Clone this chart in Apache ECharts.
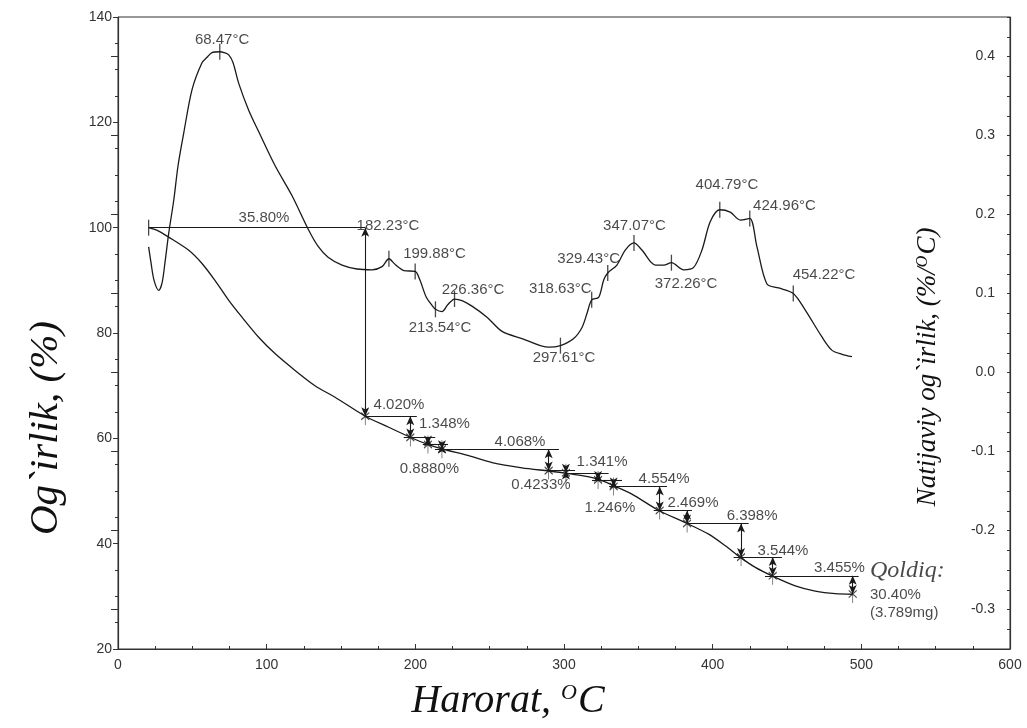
<!DOCTYPE html>
<html>
<head>
<meta charset="utf-8">
<script src="https://cdn.jsdelivr.net/npm/echarts@6/dist/echarts.min.js"></script>
<style>
html, body { margin: 0; padding: 0; background: #fff; }
#chart { width: 1027px; height: 728px; }
</style>
</head>
<body>
<div id="chart"></div>
<script>
// ---- TG curve: residual mass (%) against temperature (°C)
const tgTemp = [20.6, 27.0, 34.1, 47.6, 56.5, 65.2, 74.5, 83.4, 94.6, 105.6, 119.1, 132.5, 146.0, 166.3,
  182.1, 196.6, 207.8, 217.9, 235.9, 251.6, 271.7, 289.7, 300.9, 312.1, 323.3, 333.4, 345.7, 363.7,
  381.6, 397.3, 408.5, 418.6, 428.7, 439.9, 455.6, 469.0, 482.5, 494.2];
const tgMass = [100.0, 99.4, 98.2, 95.7, 93.2, 90.0, 86.2, 83.0, 79.2, 76.1, 72.9, 70.0, 67.8, 64.2,
  62.1, 60.2, 58.9, 58.0, 56.7, 55.4, 54.4, 53.8, 53.4, 52.9, 52.2, 51.0, 49.4, 46.3,
  44.0, 41.8, 39.6, 37.4, 35.5, 33.9, 32.0, 31.0, 30.5, 30.4];

// ---- DTG curve: rate of mass loss (%/°C)
const dtgTemp = [20.6, 22.2, 24.2, 27.4, 29.6, 31.6, 34.1, 37.5, 40.4, 44.2, 49.8, 56.5, 59.9, 63.2, 68.47,
  71.3, 74.5, 77.4, 81.2, 87.9, 94.6, 105.6, 117.0, 128.3, 134.5, 141.3, 150.7, 160.8, 170.8, 177.6,
  182.23, 186.3, 192.4, 199.88, 203.1, 207.2, 211.2, 213.54, 217.9, 221.9, 226.36, 231.4, 238.1, 248.2,
  258.3, 271.7, 289.7, 297.61, 306.5, 312.1, 315.5, 318.63, 323.3, 326.7, 329.43, 335.6, 341.2, 347.07,
  352.4, 361.4, 367.1, 372.26, 380.5, 387.2, 392.8, 398.4, 404.79, 411.8, 418.6, 424.96, 429.8,
  436.5, 444.4, 454.22, 462.3, 473.5, 480.3, 487.0, 493.7];
const dtgRate = [0.159, 0.139, 0.117, 0.104, 0.113, 0.139, 0.176, 0.218, 0.262, 0.303, 0.358, 0.392, 0.399, 0.405, 0.406,
  0.405, 0.402, 0.392, 0.366, 0.332, 0.305, 0.262, 0.224, 0.180, 0.160, 0.146, 0.136, 0.131, 0.130, 0.134,
  0.144, 0.137, 0.129, 0.128, 0.117, 0.096, 0.085, 0.080, 0.077, 0.086, 0.093, 0.091, 0.084, 0.070,
  0.052, 0.043, 0.032, 0.034, 0.043, 0.057, 0.075, 0.092, 0.095, 0.117, 0.126, 0.136, 0.155, 0.164,
  0.155, 0.136, 0.136, 0.139, 0.130, 0.133, 0.155, 0.191, 0.206, 0.203, 0.193, 0.195, 0.159,
  0.112, 0.107, 0.100, 0.079, 0.045, 0.028, 0.023, 0.020];

// ---- DTG peak temperatures marked on the curve (°C)
const dtgPeaks = [68.47, 182.23, 199.88, 213.54, 226.36, 297.61, 318.63, 329.43, 347.07, 372.26, 404.79, 424.96, 454.22];

// ---- mass-loss steps (% of initial mass) and the temperature that closes each step
const stepLoss = [35.80, 4.020, 1.348, 0.8880, 4.068, 0.4233, 1.341, 1.246, 4.554, 2.469, 6.398, 3.544, 3.455];
const stepTemp = [166.3, 196.6, 208.5, 217.9, 289.7, 301.3, 322.9, 333.4, 364.4, 382.8, 419.1, 440.4, 494.2];
// temperature span of the baseline drawn at the start level of each step
const stepSpanFrom = [20.6, 166.3, 192.2, 205.0, 213.2, 285.2, 303.1, 318.8, 330.3, 360.3, 382.7, 414.1, 435.2];
const stepSpanTo = [166.3, 201.0, 213.4, 222.0, 296.6, 307.4, 330.0, 339.0, 369.3, 386.1, 424.2, 446.6, 498.2];

// ---- residue
const residueText = ['Qoldiq:', '30.40%', '(3.789mg)'];

// ---- axis ticks
const tempTicks = [0, 100, 200, 300, 400, 500, 600];
const massTicks = [20, 40, 60, 80, 100, 120, 140];
const rateTicks = [-0.3, -0.2, -0.1, 0.0, 0.1, 0.2, 0.3, 0.4];

// ================= layout of annotation text (data coordinates: °C, %) =================
const peakLabelAt = [[70.0, 135.6], [181.6, 100.4], [212.9, 95.1], [216.6, 81.0], [238.8, 88.1],
  [300.0, 75.3], [297.5, 88.4], [316.6, 94.1], [347.4, 100.4], [382.1, 89.4], [409.6, 108.2],
  [448.3, 104.1], [474.9, 91.1]];
const stepLabelAt = [[98.2, 101.8], [189.0, 66.4], [219.6, 62.8], [209.5, 54.2], [270.4, 59.4],
  [284.5, 51.2], [325.6, 55.6], [330.9, 46.8], [367.3, 52.3], [386.8, 47.8], [426.5, 45.3],
  [447.3, 38.6], [485.3, 35.4]];
const residueAt = [[505.8, 34.8], [505.8, 30.3], [505.8, 26.8]];

const INK = '#1a1a1a';
const SANS = '"Liberation Sans", Arial, sans-serif';
const SERIF = '"Liberation Serif", "Times New Roman", serif';

// mass level before each step
const levels = [100];
stepLoss.forEach((d, i) => levels.push(levels[i] - d));

function interp(xs, ys, x) {
  for (let i = 1; i < xs.length; i++) {
    if (x <= xs[i]) {
      const t = (x - xs[i - 1]) / (xs[i] - xs[i - 1]);
      return ys[i - 1] + t * (ys[i] - ys[i - 1]);
    }
  }
  return ys[ys.length - 1];
}

const tgData = tgTemp.map((t, i) => [t, tgMass[i]]);
const dtgData = dtgTemp.map((t, i) => [t, dtgRate[i]]);
const peakMarks = dtgPeaks.map(t => [t, interp(dtgTemp, dtgRate, t)]);
const stepMarks = stepTemp.map((t, i) => [t, levels[i + 1]]);

const stepLines = [];
stepLoss.forEach((d, i) => {
  stepLines.push([
    { coord: [stepSpanFrom[i], levels[i]], symbol: 'none' },
    { coord: [stepSpanTo[i], levels[i]], symbol: 'none' }
  ]);
  stepLines.push([
    { coord: [stepTemp[i], levels[i]], symbol: 'arrow' },
    { coord: [stepTemp[i], levels[i + 1]], symbol: 'arrow' }
  ]);
});

const textItems = [];
dtgPeaks.forEach((t, i) => textItems.push({ value: peakLabelAt[i], name: t.toFixed(2) + '°C' }));
stepLoss.forEach((d, i) => textItems.push({ value: stepLabelAt[i], name: d.toPrecision(4) + '%' }));

const residueItems = residueText.map((s, i) => ({
  value: residueAt[i], name: s,
  label: i === 0 ? { fontFamily: SERIF, fontStyle: 'italic', fontSize: 24, color: INK } : {}
}));

const chart = echarts.init(document.getElementById('chart'), null, { renderer: 'canvas' });

chart.setOption({
  animation: false,
  backgroundColor: '#fff',
  grid: { left: 118, right: 17, top: 17, bottom: 79, show: true, borderColor: '#333', borderWidth: 1 },
  xAxis: {
    type: 'value', min: tempTicks[0], max: tempTicks[tempTicks.length - 1], interval: 100,
    axisLine: { onZero: false, lineStyle: { color: '#333', width: 1.2 } },
    axisTick: { inside: true, length: 5, lineStyle: { color: '#333' } },
    minorTick: { show: true, splitNumber: 4, length: 3, lineStyle: { color: '#333' } },
    axisLabel: { fontFamily: SANS, fontSize: 14, color: '#333', margin: 9 },
    splitLine: { show: false }
  },
  yAxis: [
    {
      type: 'value', position: 'left', min: massTicks[0], max: massTicks[massTicks.length - 1], interval: 20,
      axisLine: { show: true, onZero: false, lineStyle: { color: '#333', width: 1.2 } },
      axisTick: { show: true, length: 5, lineStyle: { color: '#333' } },
      minorTick: { show: true, splitNumber: 4, length: 3, lineStyle: { color: '#333' } },
      axisLabel: { fontFamily: SANS, fontSize: 14, color: '#333', margin: 6 },
      splitLine: { show: false }
    },
    {
      type: 'value', position: 'right', min: -0.35, max: 0.45, interval: 0.025,
      axisLine: { show: true, onZero: false, lineStyle: { color: '#333', width: 1.2 } },
      axisTick: { show: true, inside: true, length: 3, lineStyle: { color: '#333' } },
      axisLabel: {
        inside: true, customValues: rateTicks, fontFamily: SANS, fontSize: 14, color: '#333', margin: 15,
        formatter: v => v.toFixed(1)
      },
      splitLine: { show: false }
    },
    {
      type: 'value', position: 'right', min: -0.35, max: 0.45, interval: 0.025,
      axisLine: { show: false },
      axisTick: { show: true, inside: true, length: 7, customValues: rateTicks, lineStyle: { color: '#333' } },
      axisLabel: { show: false },
      splitLine: { show: false }
    }
  ],
  series: [
    {
      name: 'TG', type: 'line', yAxisIndex: 0, data: tgData, smooth: 0.25, symbol: 'none',
      lineStyle: { color: INK, width: 1.3 }, z: 3,
      markLine: {
        silent: true, animation: false, symbolSize: [6, 9],
        label: { show: false },
        lineStyle: { color: INK, width: 1.1, type: 'solid' },
        data: stepLines
      }
    },
    {
      name: 'DTG', type: 'line', yAxisIndex: 1, data: dtgData, smooth: 0.3, symbol: 'none',
      lineStyle: { color: INK, width: 1.3 }, z: 3
    },
    {
      name: 'peaks', type: 'scatter', yAxisIndex: 1, data: peakMarks, symbol: 'rect', symbolSize: [1.3, 16],
      itemStyle: { color: INK }, silent: true, z: 4
    },
    {
      name: 'steps', type: 'scatter', yAxisIndex: 0, data: stepMarks,
      symbol: 'path://M5,0L5,20M1,6L9,14M1,14L9,6', symbolSize: [8, 18],
      itemStyle: { color: 'none', borderColor: INK, borderWidth: 1 }, silent: true, z: 4
    },
    {
      name: 'start', type: 'scatter', yAxisIndex: 0, data: [[tgTemp[0], levels[0]]], symbol: 'rect',
      symbolSize: [1.3, 16], itemStyle: { color: INK }, silent: true, z: 4
    },
    {
      name: 'labels', type: 'scatter', yAxisIndex: 0, data: textItems, symbolSize: 0.1,
      itemStyle: { color: 'transparent' }, silent: true, z: 5,
      label: {
        show: true, position: 'inside', align: 'center', verticalAlign: 'middle',
        formatter: p => p.name, fontFamily: SANS, fontSize: 15, color: INK
      }
    },
    {
      name: 'residue', type: 'scatter', yAxisIndex: 0, data: residueItems, symbolSize: 0.1,
      itemStyle: { color: 'transparent' }, silent: true, z: 5,
      label: {
        show: true, position: 'right', distance: 0, align: 'left', verticalAlign: 'middle',
        formatter: p => p.name, fontFamily: SANS, fontSize: 15, color: INK
      }
    }
  ],
  graphic: [
    {
      type: 'text', x: 508, y: 701,
      style: {
        text: '{a|Harorat, }{s|O}{a|C}', align: 'center', verticalAlign: 'middle', fill: '#111',
        rich: {
          a: { fontFamily: SERIF, fontStyle: 'italic', fontSize: 40, fill: '#111' },
          s: { fontFamily: SERIF, fontStyle: 'italic', fontSize: 22, fill: '#111', padding: [0, 1, 16, 0] }
        }
      }
    },
    {
      type: 'text', x: 46, y: 428, rotation: Math.PI / 2,
      style: {
        text: 'Og`irlik, (%)', align: 'center', verticalAlign: 'middle', fill: '#111',
        fontFamily: SERIF, fontStyle: 'italic', fontSize: 41
      }
    },
    {
      type: 'text', x: 928, y: 367, rotation: Math.PI / 2,
      style: {
        text: '{a|Natijaviy og`irlik, (%/}{s|O}{a|C)}', align: 'center', verticalAlign: 'middle', fill: '#111',
        rich: {
          a: { fontFamily: SERIF, fontStyle: 'italic', fontSize: 27, fill: '#111' },
          s: { fontFamily: SERIF, fontStyle: 'italic', fontSize: 16, fill: '#111', padding: [0, 1, 11, 0] }
        }
      }
    }
  ]
});
</script>
</body>
</html>
